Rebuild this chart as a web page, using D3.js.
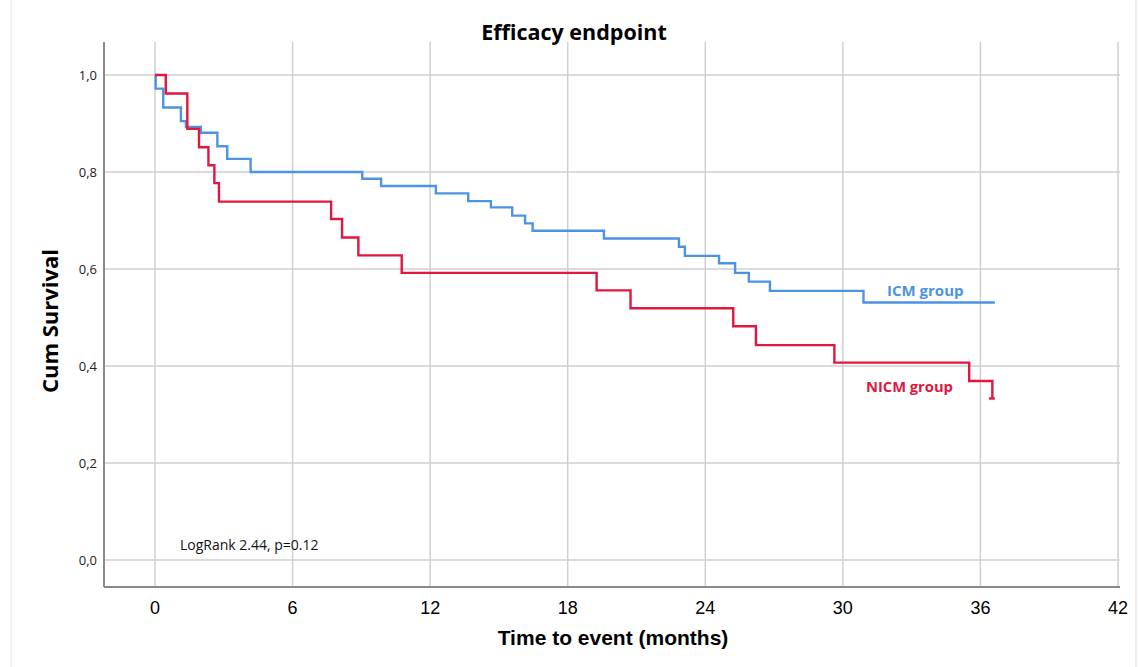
<!DOCTYPE html>
<html>
<head>
<meta charset="utf-8">
<script src="https://cdn.jsdelivr.net/npm/d3@7"></script>
<style>
  body { margin: 0; background: #fff; }
  svg { display: block; }
</style>
</head>
<body>
<div id="chart"></div>
<script>
// Kaplan-Meier step data (time in months, cumulative survival)
const icmTimes = [0, 0.03, 0.36, 1.13, 1.35, 2.0, 2.72, 3.15, 4.17, 9.04, 9.86, 12.25, 13.66, 14.65, 15.58, 16.14, 16.47, 19.58, 22.85, 23.11, 24.6, 25.3, 25.9, 26.82, 30.9];
const icmSurv = [1.0, 0.972, 0.933, 0.905, 0.893, 0.881, 0.853, 0.827, 0.80, 0.786, 0.771, 0.756, 0.740, 0.727, 0.710, 0.694, 0.679, 0.663, 0.646, 0.627, 0.612, 0.592, 0.574, 0.555, 0.531];
const icmEnd = 36.63;

const nicmTimes = [0, 0.47, 1.41, 1.92, 2.33, 2.59, 2.79, 7.68, 8.16, 8.87, 10.76, 19.26, 20.74, 25.22, 26.21, 29.63, 35.51, 36.52];
const nicmSurv = [1.0, 0.962, 0.889, 0.851, 0.814, 0.777, 0.739, 0.703, 0.665, 0.628, 0.592, 0.556, 0.519, 0.482, 0.443, 0.407, 0.369, 0.333];
const nicmEnd = 36.52;
const nicmCensor = [36.37, 36.63];

const xTicks = [0, 6, 12, 18, 24, 30, 36, 42];
const yTicks = [0, 0.2, 0.4, 0.6, 0.8, 1.0];

const width = 1138, height = 667;
const frame = { left: 104, right: 1120, top: 42, bottom: 587 };
const sans = "'Open Sans', 'DejaVu Sans', sans-serif";

const svg = d3.select("#chart").append("svg")
    .attr("width", width)
    .attr("height", height);

// faint outer border
svg.append("line").attr("x1", 11).attr("x2", 11).attr("y1", 0).attr("y2", height)
    .attr("stroke", "#e6e6e6").attr("stroke-width", 1);
svg.append("line").attr("x1", 1136).attr("x2", 1136).attr("y1", 0).attr("y2", height)
    .attr("stroke", "#d8d8d8").attr("stroke-width", 1);

const x = d3.scaleLinear().domain([0, 42]).range([155, 1118]);
const y = d3.scaleLinear().domain([0, 1]).range([560, 75]);

// Grid lines
svg.append("g").selectAll("line")
    .data(yTicks)
    .join("line")
    .attr("x1", frame.left).attr("x2", frame.right)
    .attr("y1", d => y(d)).attr("y2", d => y(d))
    .attr("stroke", "#cfcfcf").attr("stroke-width", 1.5);

svg.append("g").selectAll("line")
    .data(xTicks)
    .join("line")
    .attr("x1", d => x(d)).attr("x2", d => x(d))
    .attr("y1", frame.top).attr("y2", frame.bottom)
    .attr("stroke", "#cfcfcf").attr("stroke-width", 1.5);

// Axis lines
svg.append("line")
    .attr("x1", frame.left).attr("x2", frame.left)
    .attr("y1", frame.top).attr("y2", frame.bottom)
    .attr("stroke", "#8a8a8a").attr("stroke-width", 2);
svg.append("line")
    .attr("x1", frame.left).attr("x2", frame.right)
    .attr("y1", frame.bottom).attr("y2", frame.bottom)
    .attr("stroke", "#8a8a8a").attr("stroke-width", 2);

// Y tick labels
svg.append("g").selectAll("text")
    .data(yTicks)
    .join("text")
    .attr("x", 97)
    .attr("y", d => y(d) + 5)
    .attr("text-anchor", "end")
    .style("font-family", sans)
    .style("font-size", "13px")
    .style("fill", "#222")
    .text(d => d3.format(".1f")(d).replace(".", ","));

// X tick labels
svg.append("g").selectAll("text")
    .data(xTicks)
    .join("text")
    .attr("x", d => x(d))
    .attr("y", 614)
    .attr("text-anchor", "middle")
    .style("font-family", "'Liberation Sans', Arial, sans-serif")
    .style("font-size", "18px")
    .style("fill", "#000")
    .text(d => d);

// Step curves
function stepPoints(times, surv, end) {
    const pts = times.map((t, i) => [t, surv[i]]);
    pts.push([end, surv[surv.length - 1]]);
    return pts;
}

const line = d3.line()
    .x(d => x(d[0]))
    .y(d => y(d[1]))
    .curve(d3.curveStepAfter);

const blue = "#4d93e3";
const red = "#e0173f";

svg.append("path")
    .datum(stepPoints(icmTimes, icmSurv, icmEnd))
    .attr("fill", "none")
    .attr("stroke", blue)
    .attr("stroke-width", 2.4)
    .attr("d", line);

svg.append("path")
    .datum(stepPoints(nicmTimes, nicmSurv, nicmEnd))
    .attr("fill", "none")
    .attr("stroke", red)
    .attr("stroke-width", 2.4)
    .attr("d", line);

svg.append("line")
    .attr("x1", x(nicmCensor[0])).attr("x2", x(nicmCensor[1]))
    .attr("y1", y(nicmSurv[nicmSurv.length - 1])).attr("y2", y(nicmSurv[nicmSurv.length - 1]))
    .attr("stroke", red).attr("stroke-width", 2.4);

// Group labels
svg.append("text")
    .attr("x", 887).attr("y", 296)
    .style("font-family", sans)
    .style("font-size", "15px")
    .style("font-weight", "bold")
    .style("fill", blue)
    .text("ICM group");

svg.append("text")
    .attr("x", 866).attr("y", 392)
    .style("font-family", sans)
    .style("font-size", "14.7px")
    .style("font-weight", "bold")
    .style("fill", red)
    .text("NICM group");

// LogRank annotation
svg.append("text")
    .attr("x", 180).attr("y", 550)
    .style("font-family", sans)
    .style("font-size", "14px")
    .style("fill", "#111")
    .text("LogRank 2.44, p=0.12");

// Title
svg.append("text")
    .attr("x", 574).attr("y", 40)
    .attr("text-anchor", "middle")
    .style("font-family", sans)
    .style("font-size", "21.5px")
    .style("font-weight", "bold")
    .style("fill", "#000")
    .text("Efficacy endpoint");

// Axis titles
svg.append("text")
    .attr("x", 613).attr("y", 645)
    .attr("text-anchor", "middle")
    .style("font-family", "'Liberation Sans', Arial, sans-serif")
    .style("font-size", "21px")
    .style("font-weight", "bold")
    .style("fill", "#000")
    .text("Time to event (months)");

svg.append("text")
    .attr("transform", "translate(58,321) rotate(-90)")
    .attr("text-anchor", "middle")
    .style("font-family", sans)
    .style("font-size", "22px")
    .style("font-weight", "bold")
    .style("fill", "#000")
    .text("Cum Survival");
</script>
</body>
</html>
